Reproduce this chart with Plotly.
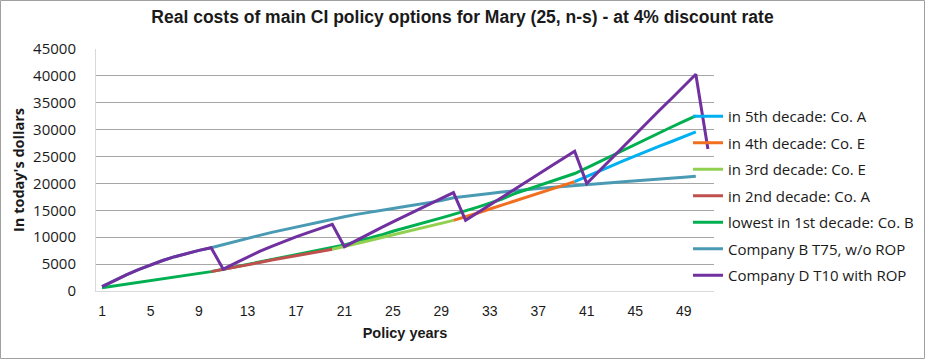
import plotly.graph_objects as go

years = list(range(1, 52))

# Company D T10 with ROP (years 1-51)
co_d = [800, 1950, 3010, 3980, 4870, 5670, 6380, 7010, 7550, 8050,
        4060, 5200, 6300, 7350, 8300, 9200, 10050, 10850, 11650, 12400,
        8250, 9450, 10600, 11750, 12850, 13950, 15050, 16150, 17250, 18300,
        13150, 14550, 15950, 17400, 18850, 20300, 21700, 23150, 24600, 26000,
        20000, 22300, 24600, 26900, 29200, 31400, 33600, 35800, 38000, 40300,
        26400]

# Company B T75, w/o ROP (years 1-50)
co_b_t75 = [800, 1950, 3010, 3980, 4870, 5670, 6380, 7010, 7550, 8050,
            8650, 9250, 9800, 10350, 10900, 11400, 11900, 12400, 12850, 13300,
            13800, 14250, 14650, 15000, 15350, 15700, 16050, 16450, 16800, 17350,
            17650, 17900, 18150, 18400, 18650, 18850, 19050, 19250, 19450, 19650,
            19850, 20000, 20150, 20300, 20450, 20600, 20750, 20950, 21150, 21350]

# lowest in 1st decade: Co. B (years 1-50)
lowest_1st = [600, 930, 1270, 1600, 1930, 2270, 2600, 2930, 3270, 3600,
              4050, 4500, 4950, 5400, 5850, 6300, 6750, 7200, 7600, 8000,
              8550, 9150, 9750, 10400, 11100, 11700, 12300, 12950, 13600, 14250,
              14900, 15600, 16350, 17100, 18050, 18800, 19550, 20300, 21050, 21850,
              22900, 24000, 25100, 26200, 27300, 28350, 29400, 30500, 31550, 32550]

# in 2nd decade: Co. A (years 10-20)
dec2_years = list(range(10, 21))
dec2 = [3600, 4000, 4400, 4850, 5300, 5750, 6150, 6550, 6950, 7350, 7750]

# in 3rd decade: Co. E (years 20-30)
dec3_years = list(range(20, 31))
dec3 = [7750, 8250, 8800, 9350, 9900, 10450, 11000, 11550, 12050, 12600, 13130]

# in 4th decade: Co. E (years 30-40)
dec4_years = list(range(30, 41))
dec4 = [13130, 13750, 14500, 15250, 16000, 16750, 17500, 18250, 18950, 19650, 20350]

# in 5th decade: Co. A (years 40-50)
dec5_years = list(range(40, 51))
dec5 = [20350, 21250, 22200, 23200, 24200, 25150, 26100, 26950, 27800, 28700, 29600]

x_ticks = list(range(1, 52, 4))
y_ticks = list(range(0, 45001, 5000))

series = [
    ("in 5th decade: Co. A", dec5_years, dec5, "#00B0F0"),
    ("in 4th decade: Co. E", dec4_years, dec4, "#F07020"),
    ("in 3rd decade: Co. E", dec3_years, dec3, "#92D050"),
    ("in 2nd decade: Co. A", dec2_years, dec2, "#C0504D"),
    ("lowest in 1st decade: Co. B", years[:50], lowest_1st, "#00B050"),
    ("Company B T75, w/o ROP", years[:50], co_b_t75, "#4A9AB4"),
    ("Company D T10 with ROP", years, co_d, "#7030A0"),
]

fig = go.Figure()
draw_order = [5, 4, 3, 2, 1, 0, 6]
for i in draw_order:
    name, xs, ys, col = series[i]
    fig.add_trace(go.Scatter(x=xs, y=ys, mode="lines", name=name,
                             line=dict(color=col, width=3),
                             legendgroup=f"g{i}", legendrank=i + 1))

FONT = "Open Sans, Noto Sans, sans-serif"
W, H = 925, 359
L, R, T, B = 96, 211, 49, 68
pw, ph = W - L - R, H - T - B

def px_to_paper_x(p):
    return (p - L) / pw

def px_to_paper_y(p):
    return (H - B - p) / ph

fig.update_layout(
    width=W, height=H,
    margin=dict(l=L, r=R, t=T, b=B, autoexpand=False),
    paper_bgcolor="white", plot_bgcolor="white",
    title=dict(text="<b>Real costs of main CI policy options for Mary (25, n-s) - at 4% discount rate</b>",
               x=0.5, xanchor="center", y=1 - 17 / H, yanchor="middle",
               font=dict(family="Liberation Sans", size=17.5, color="#1a1a1a")),
    xaxis=dict(range=[0.5, 51.5], tickmode="array", tickvals=x_ticks,
               ticktext=[str(v) for v in x_ticks], showgrid=False, automargin=False,
               showline=True, linecolor="#D9D9D9", linewidth=1,
               ticks="outside", ticklen=7, tickcolor="rgba(0,0,0,0)",
               tickfont=dict(family="Liberation Sans", size=14, color="#1a1a1a"),
               title=dict(text="<b>Policy years</b>", standoff=10,
                          font=dict(family="Liberation Sans", size=14.5, color="#1a1a1a")),
               zeroline=False),
    yaxis=dict(range=[0, 45000], tickmode="array", tickvals=y_ticks,
               ticktext=[str(v) for v in y_ticks], showgrid=True, automargin=False,
               gridcolor="#A6A6A6", gridwidth=1, showline=True,
               linecolor="#D9D9D9", linewidth=1,
               ticks="outside", ticklen=16, tickcolor="rgba(0,0,0,0)", zeroline=False,
               tickfont=dict(family=FONT, size=15, color="#1a1a1a"),
               title=dict(text="<b>In today's dollars</b>", standoff=5,
                          font=dict(family=FONT, size=14.5, color="#1a1a1a"))),
    legend=dict(x=px_to_paper_x(688), y=px_to_paper_y(100), xanchor="left", yanchor="top",
                font=dict(family=FONT, size=15, color="#1a1a1a"),
                traceorder="grouped", tracegroupgap=4, itemwidth=30,
                bgcolor="rgba(0,0,0,0)"),
    showlegend=True,
    shapes=[dict(type="rect", xref="paper", yref="paper",
                 x0=px_to_paper_x(0.5), x1=px_to_paper_x(W - 0.5),
                 y0=px_to_paper_y(H - 0.5), y1=px_to_paper_y(0.5),
                 line=dict(color="#A0A0A0", width=1), layer="below")],
)

fig.write_html("out.html", config={"displayModeBar": False},
               post_script="document.body.style.margin='0';document.body.style.overflow='hidden';")
